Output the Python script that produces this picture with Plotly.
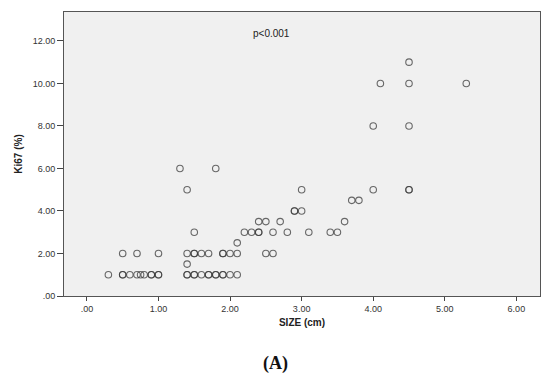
import plotly.graph_objects as go

# Data (SIZE in cm vs Ki67 in %)
size_cm = [
    # Ki67 = 1
    0.3, 0.5, 0.5, 0.6, 0.7, 0.75, 0.8, 0.9, 0.9, 1.0, 1.0, 1.4, 1.4, 1.5, 1.5, 1.6,
    1.7, 1.7, 1.8, 1.8, 1.9, 1.9, 2.0, 2.1,
    # Ki67 = 1.5
    1.4,
    # Ki67 = 2
    0.5, 0.7, 1.0, 1.4, 1.5, 1.5, 1.6, 1.7, 1.9, 1.9, 2.0, 2.1, 2.5, 2.6,
    # Ki67 = 2.5
    2.1,
    # Ki67 = 3
    1.5, 2.2, 2.3, 2.4, 2.4, 2.6, 2.8, 3.1, 3.4, 3.5,
    # Ki67 = 3.5
    2.4, 2.5, 2.7, 3.6,
    # Ki67 = 4
    2.9, 2.9, 3.0,
    # Ki67 = 4.5
    3.7, 3.8,
    # Ki67 = 5
    1.4, 3.0, 4.0, 4.5, 4.5,
    # Ki67 = 6
    1.3, 1.8,
    # Ki67 = 8
    4.0, 4.5,
    # Ki67 = 10
    4.1, 4.5, 5.3,
    # Ki67 = 11
    4.5,
]
ki67 = (
    [1.0] * 24 + [1.5] + [2.0] * 14 + [2.5] + [3.0] * 10 + [3.5] * 4 + [4.0] * 3
    + [4.5] * 2 + [5.0] * 5 + [6.0] * 2 + [8.0] * 2 + [10.0] * 3 + [11.0]
)

x_tickvals = [0, 1, 2, 3, 4, 5, 6]
x_ticktext = [".00", "1.00", "2.00", "3.00", "4.00", "5.00", "6.00"]
y_tickvals = [0, 2, 4, 6, 8, 10, 12]
y_ticktext = [".00", "2.00", "4.00", "6.00", "8.00", "10.00", "12.00"]

fig = go.Figure()
fig.add_trace(go.Scatter(
    x=size_cm, y=ki67, mode="markers",
    marker=dict(symbol="circle-open", size=6.5, color="#3a3a3a",
                line=dict(width=1.1, color="#3a3a3a"), opacity=0.75),
    showlegend=False, hoverinfo="x+y",
))

font_family = "Liberation Sans, Arial, sans-serif"

plot_h = 386 - 12 - 90
plot_w = 550 - 64 - 10

fig.update_layout(
    width=550, height=386,
    margin=dict(l=64, r=10, t=12, b=90),
    paper_bgcolor="white",
    plot_bgcolor="#f0f0f0",
    font=dict(family=font_family, size=9, color="#333333"),
    xaxis=dict(
        range=[-0.32, 6.33], tickvals=x_tickvals, ticktext=x_ticktext,
        showgrid=False, zeroline=False, showline=True, mirror=True,
        linecolor="#555555", linewidth=1, ticks="outside", ticklen=4,
        tickcolor="#444444", tickfont=dict(size=9, color="#333333"),
        title=dict(text="<b>SIZE (cm)</b>", font=dict(size=10, color="#222222"), standoff=6),
    ),
    yaxis=dict(
        range=[0, 13.36], tickvals=y_tickvals, ticktext=y_ticktext,
        showgrid=False, zeroline=False, showline=True, mirror=True,
        linecolor="#555555", linewidth=1, ticks="outside", ticklen=6,
        tickcolor="#444444", tickfont=dict(size=9, color="#333333"),
        title=dict(text="<b>Ki67 (%)</b>", font=dict(size=10, color="#222222"), standoff=8),
    ),
    annotations=[
        dict(text="p<0.001", x=2.58, y=12.33, xref="x", yref="y", showarrow=False,
             font=dict(size=10, color="#222222", family=font_family)),
        dict(text="<b>(A)</b>", x=(275 - 64) / plot_w, y=-(363 - 296) / plot_h,
             xref="paper", yref="paper", xanchor="center", yanchor="middle",
             showarrow=False,
             font=dict(size=18, color="#111111",
                       family="Liberation Serif, Times New Roman, serif")),
    ],
)

fig.write_html(
    "out.html",
    config={"displayModeBar": False},
    post_script="document.body.style.margin='0';document.body.style.overflow='hidden';",
)
